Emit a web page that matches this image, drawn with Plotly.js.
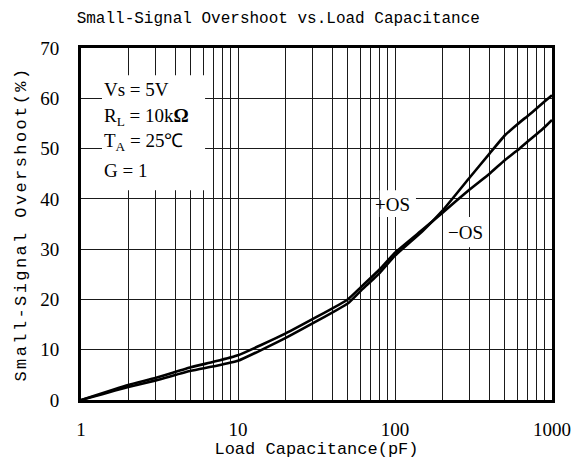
<!DOCTYPE html>
<html>
<head>
<meta charset="utf-8">
<script src="https://cdn.plot.ly/plotly-3.0.1.min.js"></script>
<style>
  html, body { margin: 0; padding: 0; background: #fff; }
  #chart { width: 575px; height: 468px; }
  .ytitle { letter-spacing: 2.4px; }
</style>
</head>
<body>
<div id="chart"></div>
<script>
// Load capacitance (pF)
const capPF = [1, 2, 3, 5, 7, 10, 20, 50, 60, 80, 100, 150, 200, 300, 400, 500, 600, 700, 800, 900, 1000];
// -OS curve (flatter at high capacitance, ends near 56 %)
const negOS = [0, 3.0, 4.4, 6.5, 7.6, 8.9, 13.2, 20.0, 22.3, 26.0, 29.3, 33.9, 37.2, 41.9, 45.0, 47.7, 49.6, 51.4, 52.9, 54.3, 55.7];
// +OS curve (steeper at high capacitance, ends near 61 %)
const posOS = [0, 2.6, 3.9, 5.8, 6.7, 7.8, 12.3, 19.2, 21.6, 25.3, 28.7, 33.6, 37.6, 44.3, 49.0, 52.6, 54.8, 56.5, 58.0, 59.4, 60.6];

// Axis ticks and grid positions
const xMajorTicks = [1, 10, 100, 1000];
const xMinorTicks = [2,3,4,5,6,7,8,9,20,30,40,50,60,70,80,90,200,300,400,500,600,700,800,900];
const yTickVals = [0, 10, 20, 30, 40, 50, 60, 70];

const conditions = ['Vs = 5V', 'R<sub>L</sub> = 10k<b>Ω</b>', 'T<sub>A</sub> = 25℃', 'G = 1'];
const curveLabels = ['+OS', '−OS'];

const serif = 'Liberation Serif, Times New Roman, serif';
const mono = 'Liberation Mono, DejaVu Sans Mono, monospace';

const lineStyle = { color: '#000', width: 2.6, shape: 'spline', smoothing: 0.4 };

// white masks behind the text blocks (hide grid lines, stay under the curves)
function mask(x0, x1, y0, y1) {
  return { x: [x0, x1, x1, x0, x0], y: [y0, y0, y1, y1, y0], type: 'scatter', mode: 'none',
           fill: 'toself', fillcolor: '#fff', hoverinfo: 'skip', showlegend: false };
}

const traces = [
  mask(1.36, 6.17, 41.7, 64.6),
  mask(80, 136, 36.4, 41.7),
  mask(225, 360, 30.4, 36.4),
  { x: capPF, y: posOS, type: 'scatter', mode: 'lines', name: '+OS', line: lineStyle },
  { x: capPF, y: negOS, type: 'scatter', mode: 'lines', name: '−OS', line: lineStyle }
];

const condY = [0.881, 0.804, 0.733, 0.653];
const annotations = conditions.map((t, i) => ({
  text: t, xref: 'paper', yref: 'paper', x: 0.045, y: condY[i],
  xanchor: 'left', yanchor: 'middle', showarrow: false,
  font: { family: serif, size: 19, color: '#000' }
}));
annotations.push({
  text: curveLabels[0], xref: 'x', yref: 'y', x: Math.log10(96), y: 38.8,
  xanchor: 'center', yanchor: 'middle', showarrow: false,
  font: { family: serif, size: 19, color: '#000' }
});
annotations.push({
  text: curveLabels[1], xref: 'x', yref: 'y', x: Math.log10(283), y: 33.4,
  xanchor: 'center', yanchor: 'middle', showarrow: false,
  font: { family: serif, size: 19, color: '#000' }
});

const layout = {
  width: 575, height: 468,
  margin: { l: 81, r: 23, t: 48, b: 68, pad: 0 },
  paper_bgcolor: '#fff', plot_bgcolor: '#fff',
  showlegend: false,
  title: {
    text: 'Small-Signal Overshoot vs.Load Capacitance',
    font: { family: mono, size: 16, color: '#000' },
    x: 0.484, xref: 'container', xanchor: 'center', y: 0.962, yref: 'container', yanchor: 'middle'
  },
  xaxis: {
    type: 'log', range: [0, 3],
    tickmode: 'array', tickvals: xMajorTicks, ticktext: xMajorTicks.map(String),
    showgrid: true, gridcolor: '#1a1a1a', gridwidth: 1,
    minor: { tickmode: 'array', tickvals: xMinorTicks, showgrid: true, gridcolor: '#1a1a1a', gridwidth: 1, ticks: '' },
    showline: true, linecolor: '#000', linewidth: 3, mirror: true,
    ticks: '', ticklabelstandoff: 10, zeroline: false,
    tickfont: { family: serif, size: 19, color: '#000' },
    title: { text: 'Load Capacitance(pF)', font: { family: mono, size: 17, color: '#000' }, standoff: 4 }
  },
  yaxis: {
    range: [0, 70], tickmode: 'array', tickvals: yTickVals,
    showgrid: true, gridcolor: '#1a1a1a', gridwidth: 1,
    showline: true, linecolor: '#000', linewidth: 3, mirror: true,
    ticks: '', ticklabelstandoff: 15, zeroline: false,
    tickfont: { family: serif, size: 19, color: '#000' },
    title: { text: 'Small-Signal Overshoot(%)', font: { family: mono, size: 17, color: '#000' }, standoff: 10 }
  },
  annotations: annotations
};

Plotly.newPlot('chart', traces, layout, { displayModeBar: false, staticPlot: true });
</script>
</body>
</html>
